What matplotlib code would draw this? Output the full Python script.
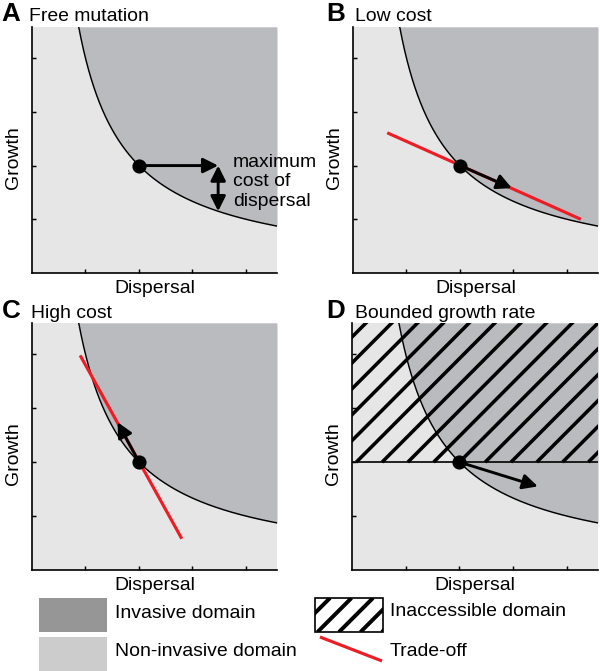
import matplotlib.pyplot as plt
import numpy as np
from matplotlib.patches import Rectangle

plt.rcParams['font.family'] = ['Liberation Sans', 'DejaVu Sans']
plt.rcParams['font.size'] = 9.3

W, H, DPI = 600, 671, 150

# --- schematic values (data units) ---
axis_max = 4.58
tick_pos = [1, 2, 3, 4]
boundary_k = 4.0            # invasion boundary: growth * dispersal = k
resident_x, resident_y = 2.0, 2.0

panel_letters = ['A', 'B', 'C', 'D']
panel_titles = ['Free mutation', 'Low cost', 'High cost', 'Bounded growth rate']

# A: free mutation
mutant_a = (3.48, 2.0)
cost_a_low = 1.15
# B: low cost trade-off
trade_b_x = [0.64, 4.26]
trade_b_y = [2.61, 1.00]
mutant_b = (2.97, 1.58)
# C: high cost trade-off
trade_c_x = [0.90, 2.80]
trade_c_y = [3.98, 0.58]
mutant_c = (1.60, 2.74)
# D: bounded growth
growth_bound = 2.0
mutant_d = (3.46, 1.55)
hatch_step = 0.48

# colours
c_inv = '#babbbf'
c_non = '#e6e6e6'
c_inv_leg = '#969696'
c_non_leg = '#cccccc'
c_red = '#ee1c24'

fig = plt.figure(figsize=(W / DPI, H / DPI), dpi=DPI)


def px_axes(x0, y0, x1, y1):
    return fig.add_axes([x0 / W, 1 - y1 / H, (x1 - x0) / W, (y1 - y0) / H])


def base_panel(ax):
    ax.set_facecolor(c_non)
    ax.set_xlim(0, axis_max)
    ax.set_ylim(0, axis_max)
    ax.set_xticks(tick_pos)
    ax.set_yticks(tick_pos)
    ax.set_xticklabels([])
    ax.set_yticklabels([])
    ax.tick_params(direction='in', length=1.8, width=0.7)
    for s in ['top', 'right']:
        ax.spines[s].set_visible(False)
    for s in ['left', 'bottom']:
        ax.spines[s].set_linewidth(0.8)
    cx = np.linspace(boundary_k / axis_max, axis_max, 400)
    cy = boundary_k / cx
    ax.fill_between(cx, cy, axis_max, color=c_inv, lw=0, zorder=1)
    ax.plot(cx, cy, color='black', lw=0.7, zorder=3)
    ax.set_xlabel('Dispersal')
    ax.set_ylabel('Growth')
    ax.xaxis.set_label_coords(0.5, -0.03)
    ax.yaxis.set_label_coords(-0.04, 0.47)


def arrow(ax, start, end, style='-|>'):
    ax.annotate('', xy=end, xytext=start,
                arrowprops=dict(arrowstyle=style + ',head_length=0.6,head_width=0.3',
                                mutation_scale=10, lw=1.4, color='black',
                                shrinkA=0, shrinkB=0), zorder=6)


def dot(ax):
    ax.plot(resident_x, resident_y, 'o', color='black', ms=5.8, zorder=7)


axA = px_axes(32, 27, 277, 273)
axB = px_axes(353, 27, 598, 273)
axC = px_axes(32, 323, 277, 570)
axD = px_axes(352, 323, 598, 570)
for ax in [axA, axB, axC, axD]:
    base_panel(ax)

# A
arrow(axA, (resident_x, resident_y), mutant_a)
arrow(axA, (mutant_a[0], resident_y), (mutant_a[0], cost_a_low), style='<|-|>')
axA.text(3.76, 1.70, 'maximum\ncost of\ndispersal', ha='left', va='center',
         clip_on=False, linespacing=1.2)
dot(axA)

# B
axB.plot(trade_b_x, trade_b_y, color=c_red, lw=1.5, solid_capstyle='butt', zorder=4)
arrow(axB, (resident_x, resident_y), mutant_b)
dot(axB)

# C
axC.plot(trade_c_x, trade_c_y, color=c_red, lw=1.5, solid_capstyle='butt', zorder=4)
arrow(axC, (resident_x, resident_y), mutant_c)
dot(axC)

# D: inaccessible region above the growth bound, diagonal hatching
for off in np.arange(resident_x - 12 * hatch_step, axis_max, hatch_step):
    axD.plot([off, off + axis_max], [growth_bound, growth_bound + axis_max],
             color='black', lw=1.7, solid_capstyle='butt', zorder=2)
axD.axhline(growth_bound, color='black', lw=0.8, zorder=4)
arrow(axD, (resident_x, resident_y), mutant_d)
dot(axD)

# panel letters and titles
title_pos = [(1, 21, 29), (326, 21, 355), (2, 318, 31), (326, 318, 355)]
for letter, title, (lx, by, tx) in zip(panel_letters, panel_titles, title_pos):
    fig.text(lx / W, 1 - by / H, letter, fontsize=12.5, fontweight='bold', va='baseline')
    fig.text(tx / W, 1 - by / H, title, va='baseline')

# legend (pixel coordinates)
lax = fig.add_axes([0, 0, 1, 100 / H])
lax.set_xlim(0, W)
lax.set_ylim(H, H - 100)
lax.axis('off')
lax.add_patch(Rectangle((39, 598), 68, 34, facecolor=c_inv_leg, edgecolor='none'))
lax.add_patch(Rectangle((39, 637), 68, 34, facecolor=c_non_leg, edgecolor='none'))
hbox = Rectangle((315, 598), 68, 34, facecolor='white', edgecolor='none')
lax.add_patch(hbox)
for b in np.arange(296, 390, 21.5):
    ln, = lax.plot([b, b + 34], [632, 598], color='black', lw=1.9, solid_capstyle='butt')
    ln.set_clip_path(hbox)
lax.add_patch(Rectangle((315, 598), 68, 34, facecolor='none', edgecolor='black', lw=0.8))
lax.plot([320, 382], [637, 661], color=c_red, lw=1.5, solid_capstyle='butt')
lax.text(115, 614, 'Invasive domain', va='center')
lax.text(115, 652, 'Non-invasive domain', va='center')
lax.text(390, 612, 'Inaccessible domain', va='center')
lax.text(390, 651, 'Trade-off', va='center')

fig.savefig('out.png', dpi=DPI)
